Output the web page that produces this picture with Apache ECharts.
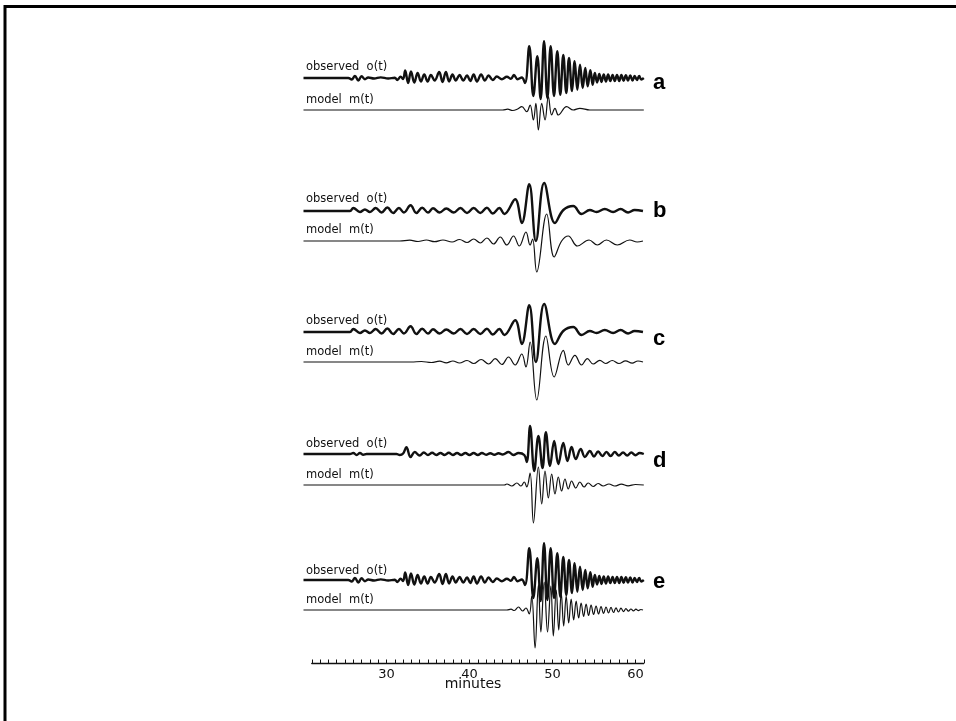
<!DOCTYPE html>
<html><head><meta charset="utf-8">
<script src="https://cdn.jsdelivr.net/npm/echarts@6/dist/echarts.min.js"></script>
<style>html,body{margin:0;padding:0;background:#fff}#c{width:956px;height:721px}</style>
</head><body><div id="c"></div><script>
// ---------------- data (time in minutes, amplitude in trace units) ----------------
const panelLetters = ['a', 'b', 'c', 'd', 'e'];
const observedLabel = 'observed  o(t)';
const modelLabel = 'model  m(t)';
const tickLabels = [30, 40, 50, 60];
const axisTitle = 'minutes';

// observed record, broadband (panels a and e)
const observedBroad = [[20,0],[25.4,0],[25.8,-1.5],[26.2,2],[26.6,-2.5],[27.0,1.8],[27.4,-1.2],[27.8,0.5],[28.5,-0.5],[29.3,0.6],[30.2,-0.5],[31.0,0.3],[31.3,-2],[31.7,1.2],[32.0,-1],[32.25,7.5],[32.6,-5],[32.95,6.5],[33.35,-4.5],[33.75,5],[34.15,-3.5],[34.55,3.5],[34.95,-3.5],[35.35,3],[35.8,-2.5],[36.35,6],[36.75,-4],[37.15,6],[37.55,-3.5],[37.95,3.5],[38.35,-2.5],[38.8,3],[39.25,-2.5],[39.7,2.5],[40.1,-3],[40.5,3.5],[40.9,-3.5],[41.4,3.5],[41.85,-2.5],[42.3,2.5],[42.8,-2],[43.3,1.5],[43.9,-1.2],[44.5,1.2],[45.0,-0.8],[45.35,3],[45.8,-1.2],[46.3,0.5],[46.69,-5],[47.2,31.7],[47.69,-18],[48.17,21.7],[48.57,-21],[48.98,36.7],[49.38,-20],[49.78,31.7],[50.18,-18],[50.58,26.7],[50.94,-16.7],[51.3,23],[51.66,-15],[51.99,20],[52.35,-13],[52.67,16.7],[52.99,-11.7],[53.31,13.3],[53.64,-10],[53.95,10],[54.24,-8.3],[54.56,7.7],[54.84,-6.7],[55.1,5],[55.37,-4.5],[55.64,4],[55.9,-4],[56.17,3.5],[56.44,-3.5],[56.7,3.5],[56.97,-3],[57.24,3],[57.5,-3],[57.77,3],[58.04,-3],[58.3,3],[58.57,-2.7],[58.84,2.7],[59.1,-2.5],[59.37,2.5],[59.64,-2.5],[59.9,2],[60.17,-2],[60.44,2],[60.7,-1.5],[61.0,0]];

// observed record, long-period (panels b and c)
const observedLong = [[20,0],[25.6,0],[26.0,3],[26.8,-1],[27.4,1.5],[28.0,-1],[28.7,3],[29.4,-1.5],[30.1,3.5],[30.8,-2],[31.5,3],[32.1,-1.5],[32.9,5.7],[33.6,-2],[34.3,3.3],[35.0,-1.5],[35.6,2.7],[36.4,-1.5],[37.2,2.5],[38.1,-1.5],[38.9,3],[39.7,-2],[40.5,3],[41.3,-2],[42.1,3.3],[42.8,-2.5],[43.6,3],[44.2,-3],[45.5,11.7],[46.3,-12],[47.2,26.7],[48.0,-30],[49.0,28],[50.3,-12],[51.3,1],[52.5,5],[53.5,-3],[54.5,1],[55.3,-1],[56.3,2],[57.3,-1],[58.2,2],[59.1,-1.5],[59.9,1],[60.9,0]];

// observed record, short-period (panel d)
const observedShort = [[20,0],[25.6,0],[26.0,1],[26.4,-1],[26.8,1],[27.2,-0.8],[27.6,0],[31.2,0],[31.6,-1],[32.0,0.5],[32.4,6.7],[32.9,-3],[33.4,2],[34.0,-1.5],[34.5,1.5],[35.0,-1],[35.5,1.2],[36.0,-1],[36.5,1],[37.0,-1],[37.5,1.2],[38.0,-1],[38.5,1],[39.0,-1],[39.5,1],[40.0,-1],[40.5,1],[41.0,-1],[41.5,1],[42.0,-0.8],[42.5,0.8],[43.0,-0.8],[43.5,0.8],[44.0,-0.5],[44.7,2],[45.3,-1],[45.9,1],[46.6,-1],[46.9,-8],[47.3,28],[47.8,-17],[48.3,18],[48.8,-14],[49.2,21.7],[49.7,-12],[50.2,13],[50.7,-10],[51.3,11],[51.8,-7],[52.3,7],[52.8,-5],[53.4,5],[53.9,-3],[54.5,3],[55.0,-2.5],[55.5,2.5],[56.0,-2],[56.5,2],[57.0,-2],[57.5,2],[58.0,-1.5],[58.5,1.5],[59.0,-1.5],[59.5,1.5],[60.0,-1.2],[60.5,1],[61,0]];

const modelA = [[20,0],[44.0,0],[44.6,0.8],[45.2,-0.5],[45.8,1],[46.3,3.3],[46.9,-1.7],[47.3,5],[47.7,-10],[48.0,6.7],[48.3,-20],[48.7,6.7],[49.1,-10],[49.5,13.3],[49.9,-5],[50.3,1.7],[50.7,-5],[51.7,3.3],[52.5,0],[53.3,1.7],[54.5,0],[61,0]];

const modelB = [[20,0],[31.6,0],[32.8,0.8],[33.8,-0.5],[34.8,1],[35.8,-0.7],[36.8,1],[37.9,-1],[38.8,1.5],[39.7,-1.5],[40.5,2],[41.3,-2],[42.1,3],[42.9,-3],[43.7,4],[44.5,-4],[45.3,5],[46.0,-5],[46.8,9],[47.3,-4],[47.6,2],[48.1,-31],[49.3,27],[50.2,-16],[51.1,0],[51.9,5],[53.0,-5],[54.4,1],[55.4,-4],[56.5,1],[57.8,-4],[59.3,1],[60.2,-1],[60.9,0]];

const modelC = [[20,0],[33,0],[34.2,0.5],[35.4,-0.5],[36.4,0.8],[37.2,-0.8],[38.0,1],[38.8,-1],[39.7,1.5],[40.5,-1.5],[41.4,2.5],[42.3,-2],[43.1,3.3],[43.9,-2.5],[44.7,5],[45.5,-3],[46.3,8],[46.8,-5],[47.3,20],[48.1,-38],[49.2,26],[50.2,-15],[51.3,11.7],[51.9,-3],[52.7,6.7],[53.5,-3],[54.2,3.3],[54.9,-2],[55.7,1.7],[56.4,-1.5],[57.2,1.5],[58.0,-1.5],[58.8,1.2],[59.6,-1.2],[60.3,1],[60.9,0]];

const modelD = [[20,0],[44.2,0],[44.5,1],[45.1,-1],[45.7,2],[46.2,-1],[46.6,3],[46.9,-2],[47.3,12],[47.7,-38],[48.3,18],[48.7,-19],[49.1,14],[49.5,-13],[49.9,11],[50.3,-9],[50.7,8],[51.1,-6],[51.5,6],[51.9,-4],[52.3,4],[52.8,-3],[53.3,3],[53.8,-2],[54.3,2],[54.9,-1.5],[55.5,1.5],[56.1,-1],[56.8,1],[57.5,-1],[58.3,0.8],[59.1,-0.8],[60,0.5],[61,0]];

const modelE = [[20,0],[44.5,0],[45.0,0.8],[45.4,-0.5],[45.9,3],[46.4,-1],[46.8,2],[47.2,-4],[47.5,14],[47.9,-38],[48.3,25],[48.6,-22],[49.0,28],[49.4,-22],[49.8,24],[50.1,-26],[50.45,20],[50.75,-20],[51.05,17],[51.35,-16],[51.65,14],[51.95,-13],[52.25,11],[52.55,-10],[52.85,9],[53.15,-8],[53.45,7],[53.75,-6.5],[54.05,6],[54.35,-5.5],[54.65,5],[54.95,-4.5],[55.25,4],[55.55,-4],[55.85,3.5],[56.15,-3.5],[56.45,3],[56.75,-3],[57.05,2.7],[57.35,-2.5],[57.65,2.2],[57.95,-2],[58.25,1.8],[58.55,-1.6],[58.85,1.4],[59.15,-1.2],[59.45,1],[59.75,-0.9],[60.05,0.8],[60.35,-0.6],[60.65,0.5],[60.9,0]];

const panelObserved = [observedBroad, observedLong, observedLong, observedShort, observedBroad];
const panelModel = [modelA, modelB, modelC, modelD, modelE];

// ---------------- layout ----------------
const T0 = 20, T1 = 62, X0 = 303.5, PXM = 8.3;
const obsBase = [78, 211, 332, 454, 580];
const modBase = [110, 241, 362, 485, 610];
const obsLabelY = [67, 199, 321, 444, 571];
const modLabelY = [100, 230, 352, 475, 600];
const letterY = [83, 211, 339, 461, 582];
const AXIS_Y = 663;
const INK = '#111';

const grids = [], xAxes = [], yAxes = [], series = [];
function addTrace(base, data, width) {
  const i = grids.length;
  grids.push({ left: X0, width: (T1 - T0) * PXM, top: base - 50, height: 100 });
  xAxes.push({ gridIndex: i, type: 'value', min: T0, max: T1, show: false });
  yAxes.push({ gridIndex: i, type: 'value', min: -50, max: 50, show: false });
  series.push({ type: 'line', xAxisIndex: i, yAxisIndex: i, data: data, showSymbol: false,
    smooth: 0.4, lineStyle: { color: INK, width: width }, silent: true });
}
for (let p = 0; p < 5; p++) {
  addTrace(obsBase[p], panelObserved[p], 2.4);
  addTrace(modBase[p], panelModel[p], 1.2);
}
// time axis
const ai = grids.length;
grids.push({ left: X0 + PXM, width: 40 * PXM, top: AXIS_Y - 40, height: 40 });
xAxes.push({ gridIndex: ai, type: 'value', min: 21, max: 61, interval: 1, position: 'bottom',
  axisLine: { show: true, lineStyle: { color: INK, width: 1.4 } },
  axisTick: { show: true, inside: true, length: 3.5, lineStyle: { color: INK, width: 1 } },
  axisLabel: { color: INK, fontSize: 13, fontFamily: 'DejaVu Sans', margin: 5,
    formatter: v => tickLabels.indexOf(v) >= 0 ? String(v) : '' },
  splitLine: { show: false } });
yAxes.push({ gridIndex: ai, type: 'value', min: 0, max: 1, show: false });
series.push({ type: 'line', xAxisIndex: ai, yAxisIndex: ai, data: [], showSymbol: false });

const graphic = [
  { type: 'polyline', shape: { points: [[5, 721], [5, 6.5], [956, 6.5]] },
    style: { stroke: '#000', lineWidth: 3, fill: null } },
  { type: 'text', x: 473, y: 684, style: { text: axisTitle, fill: INK, font: '14px "DejaVu Sans"', textAlign: 'center', textVerticalAlign: 'middle' } }
];
for (let p = 0; p < 5; p++) {
  graphic.push({ type: 'text', x: 306, y: obsLabelY[p], style: { text: observedLabel, fill: INK, font: '11.5px "DejaVu Sans"', textAlign: 'left', textVerticalAlign: 'middle' } });
  graphic.push({ type: 'text', x: 306, y: modLabelY[p], style: { text: modelLabel, fill: INK, font: '11.5px "DejaVu Sans"', textAlign: 'left', textVerticalAlign: 'middle' } });
  graphic.push({ type: 'text', x: 653, y: letterY[p], style: { text: panelLetters[p], fill: '#000', font: 'bold 22px "Liberation Sans"', textAlign: 'left', textVerticalAlign: 'middle' } });
}

const chart = echarts.init(document.getElementById('c'), null, { renderer: 'canvas' });
chart.setOption({ animation: false, backgroundColor: '#fff', grid: grids, xAxis: xAxes, yAxis: yAxes, series: series, graphic: graphic });
</script></body></html>
